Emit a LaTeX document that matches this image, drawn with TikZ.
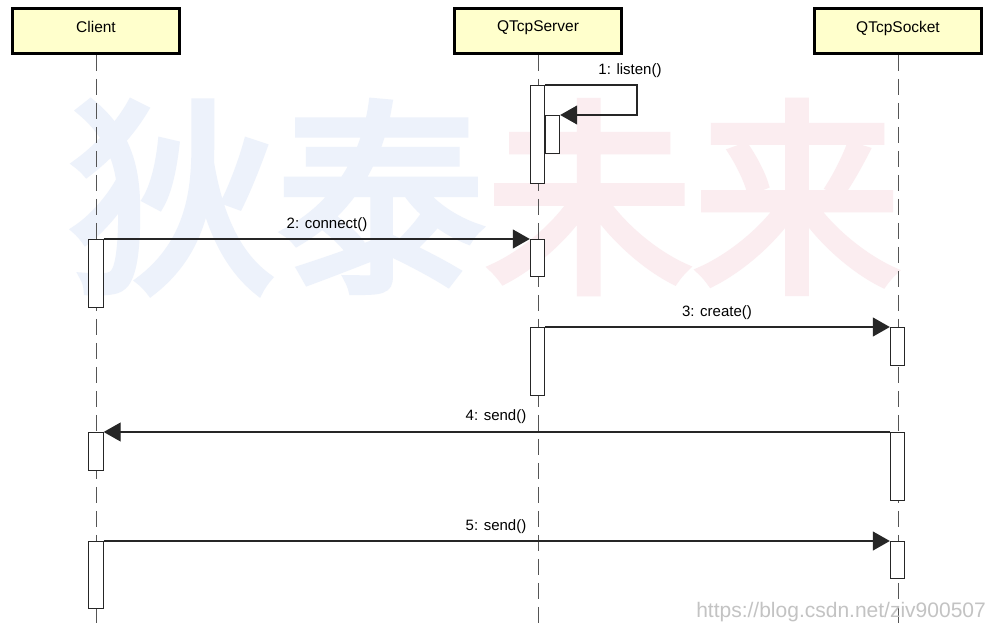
\documentclass[tikz,border=0pt]{standalone}
\usepackage{fontspec}
\setmainfont{Liberation Sans}
\newfontfamily\cjk[FakeBold=3.5]{Noto Sans CJK SC}
\usetikzlibrary{arrows.meta}
\definecolor{hdrfill}{RGB}{255,255,204}
\definecolor{wmblue}{RGB}{237,242,251}
\definecolor{wmpink}{RGB}{251,237,240}
\definecolor{lifegray}{RGB}{85,85,85}
\definecolor{urlgray}{RGB}{195,195,195}
\tikzset{
  hdr/.style={draw=black, line width=2.6pt, fill=hdrfill, minimum width=167pt, minimum height=45pt, inner sep=0pt, text depth=9pt, font=\fontsize{15.5}{18}\selectfont},
  lifeline/.style={draw=lifegray, line width=1pt, dash pattern=on 16pt off 8pt},
  act/.style={draw=black!85, line width=0.9pt, fill=white, minimum width=14.5pt, anchor=north, inner sep=0pt},
  msg/.style={draw=black!85, line width=1.1pt, -{Triangle[length=17pt,width=19pt]}},
  lbl/.style={font=\fontsize{15}{17}\selectfont, inner sep=0pt}
}
\begin{document}
\begin{tikzpicture}[x=1pt,y=-1pt]
\useasboundingbox (0,0) rectangle (990,623);
\fill[white] (0,0) rectangle (990,623);
% watermark
\node[font=\cjk\fontsize{208}{208}\selectfont, inner sep=0pt] (wm) at (485,197)
  {\textcolor{wmblue}{狄泰}\textcolor{wmpink}{未来}};
% headers
\node[hdr] (client) at (96,31) {Client};
\node[hdr] (server) at (538,31) {QTcpServer};
\node[hdr] (socket) at (898,31) {QTcpSocket};
% lifeline ends
\coordinate (cend) at (96,623);
\coordinate (send) at (538,623);
\coordinate (kend) at (898,623);
\draw[lifeline] (client.south) -- (cend);
\draw[lifeline] (server.south) -- (send);
\draw[lifeline] (socket.south) -- (kend);
% activations
\node[act, minimum height=98pt] (s1) at (537.5,85) {};
\node[act, minimum height=38pt] (s1b) at (552.5,115) {};
\node[act, minimum height=68pt] (c2) at (96,239) {};
\node[act, minimum height=37pt] (s2) at (537.5,239) {};
\node[act, minimum height=68pt] (s3) at (537.5,327) {};
\node[act, minimum height=38pt] (k3) at (897.5,327) {};
\node[act, minimum height=38pt] (c4) at (96,432) {};
\node[act, minimum height=68pt] (k4) at (897.5,432) {};
\node[act, minimum height=67pt] (c5) at (96,541) {};
\node[act, minimum height=37pt] (k5) at (897.5,541) {};
% messages
\coordinate (loop) at (637,85);
\draw[msg] (s1.north east) -- (loop) |- (s1b.north east);
\node[lbl] (l1) at (630,71) {1: listen()};
\draw[msg] (c2.north east) -- (s2.north west);
\node[lbl] (l2) at (327,225) {2: connect()};
\draw[msg] (s3.north east) -- (k3.north west);
\node[lbl] (l3) at (717,313) {3: create()};
\draw[msg] (k4.north west) -- (c4.north east);
\node[lbl] (l4) at (496,417) {4: send()};
\draw[msg] (c5.north east) -- (k5.north west);
\node[lbl] (l5) at (496,527) {5: send()};
% url watermark
\node[font=\fontsize{21}{24}\selectfont, text=urlgray, anchor=base east, inner sep=0pt] (url) at (986,617) {https://blog.csdn.net/ziv900507};
\end{tikzpicture}
\end{document}
